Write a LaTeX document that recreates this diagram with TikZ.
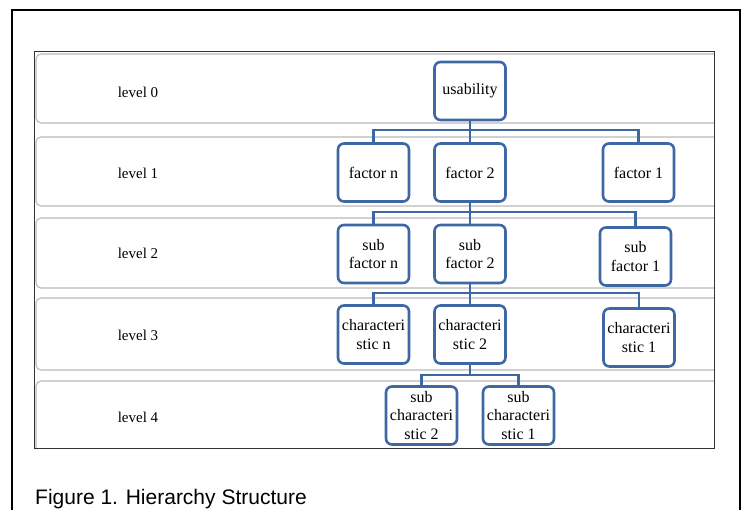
\documentclass[tikz,border=0pt]{standalone}
\usepackage{fontspec}
\setmainfont{Liberation Serif}
\setsansfont{Liberation Sans}
\usetikzlibrary{positioning}
\definecolor{boxblue}{RGB}{62,104,164}
\definecolor{rowgray}{RGB}{185,185,185}

\begin{document}
\begin{tikzpicture}[x=1pt, y=-1pt, box/.style={draw=boxblue, line width=2.6pt, rounded corners=6pt, fill=white, align=center, minimum width=71pt, minimum height=58pt, inner sep=0.5pt, outer sep=0pt, font=\fontsize{16}{18.5}\selectfont}, lvl/.style={font=\fontsize{15}{17}\selectfont}, row/.style={draw=rowgray, line width=1.1pt, rounded corners=5pt}, conn/.style={draw=boxblue, line width=2.6pt}]
\useasboundingbox (0,0) rectangle (743,510);
% outer frame and table
\draw[line width=2pt] (12,512) -- (12,10) -- (740,10) -- (740,512);
\begin{scope}
\clip (34,52) rectangle (714,448);
\draw[row] (36,54) rectangle (730,123);
\draw[row] (36,137) rectangle (730,206);
\draw[row] (36,218) rectangle (730,288);
\draw[row] (36,298) rectangle (730,370);
\draw[row] (36,381) rectangle (730,470);
\end{scope}
\draw[line width=1pt, black!80] (34,52) rectangle (714,448);
% level labels
\node[lvl] (l0) at (138,92) {level 0};
\node[lvl] (l1) at (138,173) {level 1};
\node[lvl] (l2) at (138,253) {level 2};
\node[lvl] (l3) at (138,335) {level 3};
\node[lvl] (l4) at (138,417) {level 4};
% tree
\node[box] (usab) at (470,91) {usability};
\node[box, below=23.5pt of usab] (fac2) {factor 2};
\node[box, left=25.5pt of fac2] (facn) {factor n};
\node[box, right=97.5pt of fac2] (fac1) {factor 1};
\node[box, below=23.5pt of fac2] (subf2) {sub\\factor 2};
\node[box, left=25.5pt of subf2] (subfn) {sub\\factor n};
\node[box, right=94.5pt of subf2, yshift=-2.5pt] (subf1) {sub\\factor 1};
\node[box, below=22.5pt of subf2] (char2) {characteri\\stic 2};
\node[box, left=25.5pt of char2] (charn) {characteri\\stic n};
\node[box, right=98pt of char2, yshift=-3pt] (char1) {characteri\\stic 1};
\node[box, below=23pt of char2, xshift=-48.5pt] (subc2) {sub\\characteri\\stic 2};
\node[box, right=26pt of subc2] (subc1) {sub\\characteri\\stic 1};
% connectors
\coordinate (b1) at (470,130);
\coordinate (b2) at (470,212);
\coordinate (b3) at (470,293);
\coordinate (b4) at (470,375);
\draw[conn] (usab) -- (b1) -| (facn); \draw[conn] (b1) -| (fac1); \draw[conn] (b1) -- (fac2);
\draw[conn] (fac2) -- (b2) -| (subfn); \draw[conn] (b2) -| (subf1); \draw[conn] (b2) -- (subf2);
\draw[conn] (subf2) -- (b3) -| (charn); \draw[conn] (b3) -| (char1); \draw[conn] (b3) -- (char2);
\draw[conn] (char2) -- (b4) -| (subc2); \draw[conn] (b4) -| (subc1);
% caption
\node[anchor=base west, inner sep=0pt, font=\sffamily\fontsize{21}{25}\selectfont] (cap) at (35,504) {Figure 1. Hierarchy Structure};
\end{tikzpicture}
\end{document}
